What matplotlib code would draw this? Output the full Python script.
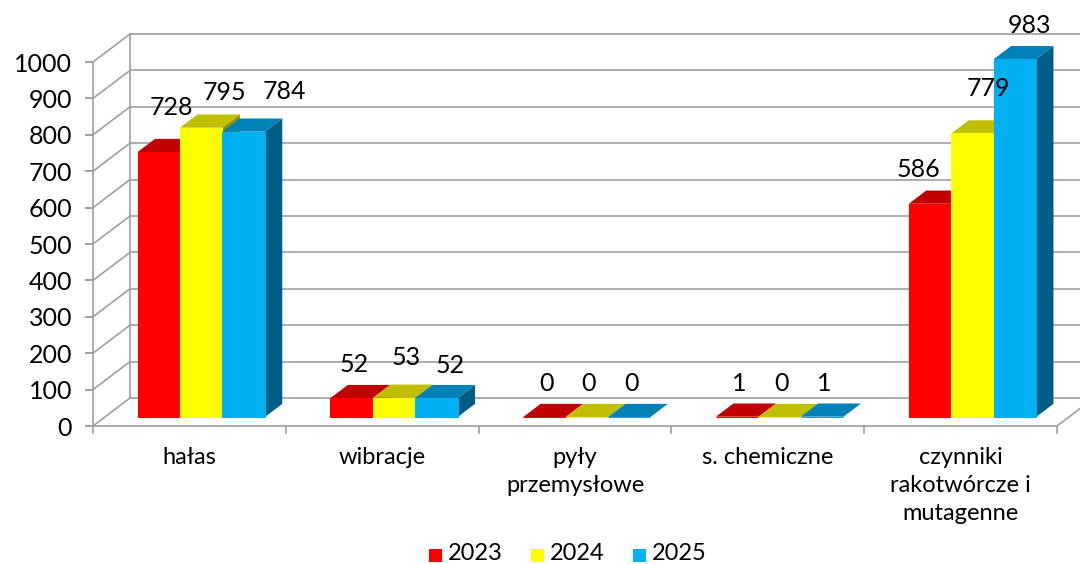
import matplotlib
matplotlib.use("Agg")
import matplotlib.pyplot as plt
from matplotlib.patches import Polygon, Rectangle
from matplotlib.transforms import offset_copy

plt.rcParams["font.family"] = ["Lato", "DejaVu Sans"]

categories = ["hałas", "wibracje", "pyły\nprzemysłowe", "s. chemiczne",
              "czynniki\nrakotwórcze i\nmutagenne"]
years = ["2023", "2024", "2025"]
v2023 = [728, 52, 0, 1, 586]
v2024 = [795, 53, 0, 0, 779]
v2025 = [784, 52, 0, 1, 983]
series = [v2023, v2024, v2025]
yticks = list(range(0, 1001, 100))

FRONT = ["#FF0000", "#FFFF00", "#00B0F0"]
TOP = ["#C00000", "#BFBF00", "#0081B8"]
SIDE = ["#900000", "#8F8F00", "#005E86"]
GRID = "#A0A0A0"

# oblique depth of the floor/walls (in category / value units)
DX, DY = 0.192, 77.0
F0, F1 = 0.32, 0.79          # bar front/back as fraction of depth
GROUP, BW = 0.66, 0.22       # group width and single bar width (categories)

# hand nudges (px) for data labels that sit off the default spot
NUDGE = {(0, 0): (11, 11), (0, 1): (21, 2), (0, 2): (39, 7),
         (1, 1): (10, 7), (1, 2): (12, -1),
         (4, 0): (-14, 1), (4, 1): (14, 12), (4, 2): (13, 1)}

W, H = 1080, 564
fig = plt.figure(figsize=(W / 100, H / 100), dpi=100)
ax = fig.add_axes([0, 0, 1, 1])
ax.set_xlim(-93 / 192.8, (W - 93) / 192.8)
ax.set_ylim(-(H - 426) / 0.364, 426 / 0.364)
ax.axis("off")

def pxfig(x, y):
    return x / W, 1 - y / H

lw = 1.2
# back wall gridlines and left wall diagonals
for v in yticks:
    ax.plot([DX, 6], [v + DY, v + DY], color=GRID, lw=lw, zorder=1)
    ax.plot([0, DX], [v, v + DY], color=GRID, lw=lw, zorder=1)
    ax.plot([0, 0], [v, v], color=GRID, lw=lw, zorder=1,
            marker=[(-1, 0), (0, 0)], markersize=12, markeredgewidth=lw)
    ax.text(-21 / 192.8, v - 2 / 0.364, str(v), ha="right", va="center",
            fontsize=18, color="black")
ax.plot([DX, DX], [DY, 1000 + DY], color=GRID, lw=lw, zorder=1)
ax.plot([0, 0], [0, 1000], color=GRID, lw=lw, zorder=1)
# floor
ax.plot([0, len(categories)], [0, 0], color=GRID, lw=lw, zorder=1)
ax.plot([len(categories), len(categories) + DX], [0, DY], color=GRID, lw=lw, zorder=1)
for c in range(len(categories) + 1):
    ax.plot([c, c], [0, -20], color=GRID, lw=lw, zorder=1)

# bars
z = 3
for i in range(len(categories)):
    x0 = i + (1 - GROUP) / 2
    for j, vals in enumerate(series):
        v = vals[i]
        l, r = x0 + j * BW + F0 * DX, x0 + (j + 1) * BW + F0 * DX
        b, t = F0 * DY, v + F0 * DY
        ddx, ddy = (F1 - F0) * DX, (F1 - F0) * DY
        ax.add_patch(Polygon([(r, b), (r + ddx, b + ddy), (r + ddx, t + ddy), (r, t)],
                             closed=True, fc=SIDE[j], ec="none", zorder=z))
        ax.add_patch(Polygon([(l, t), (r, t), (r + ddx, t + ddy), (l + ddx, t + ddy)],
                             closed=True, fc=TOP[j], ec="none", zorder=z + 0.1))
        ax.add_patch(Polygon([(l, b), (r, b), (r, t), (l, t)], closed=True,
                             fc=FRONT[j], ec=FRONT[j], lw=0.8, zorder=z + 0.2))
        dxp, dyp = NUDGE.get((i, j), (0, 0))
        tr = offset_copy(ax.transData, fig=fig, x=2 + dxp, y=20 + dyp, units="dots")
        ax.text((l + r) / 2, v + F1 * DY, str(v), transform=tr, ha="center",
                va="center", fontsize=18, color="black", zorder=100)
        z += 1

# category labels
for i, name in enumerate(categories):
    ax.text(i + 0.5, -21 / 0.364, name, ha="center", va="top", fontsize=17,
            linespacing=1.42, color="black")

# legend
for j, (yr, sq) in enumerate(zip(years, [429, 531, 633])):
    fx, fy = pxfig(sq, 562)
    fig.patches.append(Rectangle((fx, fy), 13 / W, 13 / H, transform=fig.transFigure,
                                 fc=FRONT[j], ec="none"))
    tx, ty = pxfig(sq + 19, 554)
    fig.text(tx, ty, yr, ha="left", va="center", fontsize=17, color="black")

fig.savefig("out.png", dpi=100)
